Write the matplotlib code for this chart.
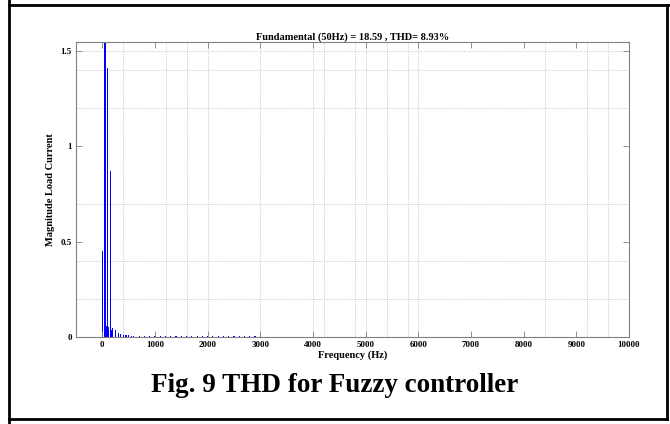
"""THD spectrum of the load current with the fuzzy controller (Fig. 9)."""
import matplotlib
matplotlib.use("Agg")
import matplotlib.pyplot as plt
from matplotlib.lines import Line2D

# harmonic spectrum (Hz, magnitude)
FREQ = [0, 10, 50, 100, 150, 60, 70, 110, 120, 170, 200, 250, 300, 350, 400, 450,
        500, 550, 600, 700, 800, 900, 1000, 1100, 1200, 1300, 1400, 1500, 1600,
        1700, 1800, 1900, 2000, 2100, 2200, 2300, 2400, 2500, 2600, 2700, 2800,
        2900, 3000]
MAG = [0.45, 0.24, 18.59, 1.41, 0.87, 0.07, 0.06, 0.05, 0.04, 0.035, 0.045, 0.035,
       0.02, 0.015, 0.012, 0.01, 0.008, 0.007, 0.006, 0.005, 0.005, 0.004, 0.004,
       0.004, 0.004, 0.003, 0.003, 0.003, 0.003, 0.003, 0.003, 0.003, 0.003,
       0.003, 0.003, 0.003, 0.003, 0.003, 0.003, 0.003, 0.003, 0.003, 0.003]

XTICKS = [0, 1000, 2000, 3000, 4000, 5000, 6000, 7000, 8000, 9000, 10000]
YTICKS = [0, 0.5, 1, 1.5]
YTICKLABELS = ["0", "0.5", "1", "1.5"]
# the grid in the source image does not line up with the ticks
XGRID = [400, 1200, 1600, 2000, 3000, 4000, 4200, 4800, 5000, 5400, 5800, 6000,
         8400, 9200, 9600]
YGRID = [0.2, 0.4, 0.7, 1.2, 1.4, 1.5]

TITLE = "Fundamental (50Hz) = 18.59 , THD= 8.93%"
CAPTION = "Fig. 9 THD for Fuzzy controller"

plt.rcParams["font.family"] = ["Liberation Serif", "DejaVu Serif"]
plt.rcParams["font.weight"] = "bold"

fig = plt.figure(figsize=(6.7, 4.24), dpi=100)
ax = fig.add_axes([0.1134, 0.2052, 0.8254, 0.6946])

ax.bar(FREQ, MAG, width=22, color="#0000ff", linewidth=0)
ax.set_xlim(-500, 10000)
ax.set_ylim(0, 1.545)

for x in XGRID:
    ax.axvline(x, color="#c8c8c8", lw=0.6, ls=(0, (1.5, 1.5)), zorder=0)
for y in YGRID:
    ax.axhline(y, color="#c8c8c8", lw=0.6, ls=(0, (1.5, 1.5)), zorder=0)

ax.set_xticks(XTICKS)
ax.set_xticklabels([str(t) for t in XTICKS], fontsize=6.5, fontweight="bold")
ax.set_yticks(YTICKS)
ax.set_yticklabels(YTICKLABELS, fontsize=6.5, fontweight="bold")
ax.tick_params(direction="in", top=True, right=True, length=4, width=0.6,
               color="#808080", pad=3)
for s in ax.spines.values():
    s.set_color("#808080")
    s.set_linewidth(0.8)

ax.set_title(TITLE, fontsize=7.5, fontweight="bold", pad=2)
ax.set_xlabel("Frequency (Hz)", fontsize=7.5, fontweight="bold", labelpad=1)
ax.set_ylabel("Magnitude Load Current", fontsize=7.5, fontweight="bold", labelpad=4)

fig.text(0.5, 0.09, CAPTION, ha="center", va="center", fontsize=19.5, fontweight="bold")

# outer frame of the table cell
W, H = 670, 424
frame = dict(color="black", lw=2, transform=fig.transFigure)
fig.add_artist(Line2D([9 / W, 9 / W], [0, 1], **frame))
fig.add_artist(Line2D([9 / W, 1], [1 - 5 / H, 1 - 5 / H], **frame))
fig.add_artist(Line2D([667 / W, 667 / W], [1 - 419 / H, 1 - 5 / H], **frame))
fig.add_artist(Line2D([9 / W, 667 / W], [1 - 419 / H, 1 - 419 / H], **frame))

fig.savefig("out.png", dpi=100)
